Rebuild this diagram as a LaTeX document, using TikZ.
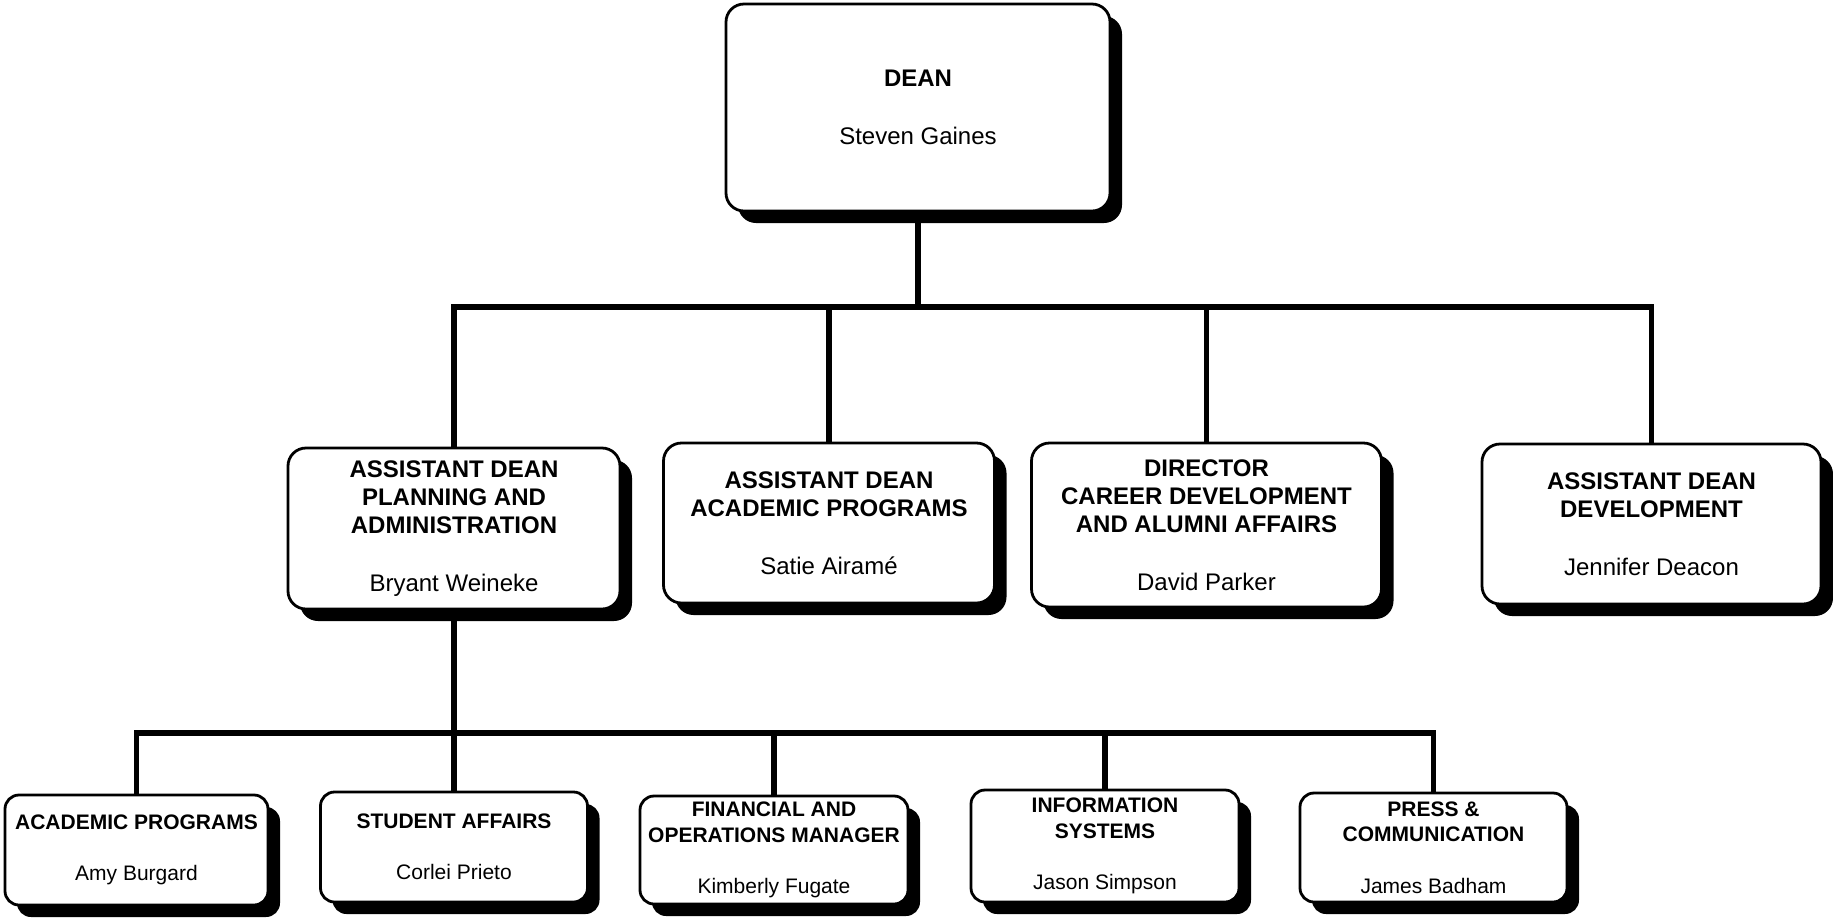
\documentclass[tikz,border=0pt]{standalone}
\usepackage{fontspec}
\setmainfont{Liberation Sans}
\usetikzlibrary{%
    shapes,%
    shadows,%
    positioning,%
    calc%
}
\tikzset{
    unit/.style = {draw = black, line width = 1.4pt, fill = white, align = center, inner sep = 2pt,
        drop shadow = {shadow xshift = 6pt, shadow yshift = -6pt, opacity = 1, fill = black}},
    toplevel/.style = {unit, rounded corners = 9pt, font = \fontsize{12}{14}\selectfont},
    sublevel/.style = {unit, rounded corners = 7pt, font = \fontsize{10.5}{12.75}\selectfont},
    link/.style = {line width = 2.8pt}
}

\begin{document}
\begin{tikzpicture}[x = 0.5pt, y = -0.5pt]
    \useasboundingbox (0,0) rectangle (1833,918);

    % Dean and the four units below
    \node[toplevel, minimum width = 192pt, minimum height = 103.5pt] (dean) at (918,107.5)
        {\textbf{DEAN}\\[15pt] Steven Gaines};
    \node[toplevel, minimum width = 166pt, minimum height = 80.5pt] (planning) at (454,528.5)
        {\textbf{ASSISTANT DEAN}\\ \textbf{PLANNING AND}\\ \textbf{ADMINISTRATION}\\[15pt] Bryant Weineke};
    \node[toplevel, minimum width = 165.5pt, minimum height = 80pt] (academic) at (829,523)
        {\textbf{ASSISTANT DEAN}\\ \textbf{ACADEMIC PROGRAMS}\\[15pt] Satie Airamé};
    \node[toplevel, minimum width = 175pt, minimum height = 82pt] (career) at (1206.5,525)
        {\textbf{DIRECTOR}\\ \textbf{CAREER DEVELOPMENT}\\ \textbf{AND ALUMNI AFFAIRS}\\[15pt] David Parker};
    \node[toplevel, minimum width = 169.5pt, minimum height = 80pt] (development) at (1651.5,524)
        {\textbf{ASSISTANT DEAN}\\ \textbf{DEVELOPMENT}\\[15pt] Jennifer Deacon};

    % Units under planning and administration
    \node[sublevel, minimum width = 131.5pt, minimum height = 55pt] (progs) at (136.5,850)
        {\textbf{ACADEMIC PROGRAMS}\\[13pt] Amy Burgard};
    \node[sublevel, minimum width = 133.5pt, minimum height = 55pt] (student) at (454,847)
        {\textbf{STUDENT AFFAIRS}\\[13pt] Corlei Prieto};
    \node[sublevel, minimum width = 134pt, minimum height = 54pt] (finance) at (774,850)
        {\textbf{FINANCIAL AND}\\ \textbf{OPERATIONS MANAGER}\\[13pt] Kimberly Fugate};
    \node[sublevel, minimum width = 134pt, minimum height = 56pt] (infosys) at (1105,846)
        {\textbf{INFORMATION}\\ \textbf{SYSTEMS}\\[13pt] Jason Simpson};
    \node[sublevel, minimum width = 133.5pt, minimum height = 54.5pt] (press) at (1433.5,847.5)
        {\textbf{PRESS \&}\\ \textbf{COMMUNICATION}\\[13pt] James Badham};

    % Bus lines
    \coordinate (upperbus) at (918,307);
    \coordinate (lowerbus) at (454,733);

    % Draw the links
    \draw[link] (dean.south) -- (upperbus);
    \draw[link] (planning.north) |- (upperbus) -| (development.north);
    \foreach \n in {academic, career}
        \draw[link] (\n.north) -- (\n.north |- upperbus);
    \draw[link] (planning.south) -- (lowerbus);
    \draw[link] (progs.north) |- (lowerbus) -| (press.north);
    \foreach \n in {student, finance, infosys}
        \draw[link] (\n.north) -- (\n.north |- lowerbus);
\end{tikzpicture}
\end{document}
